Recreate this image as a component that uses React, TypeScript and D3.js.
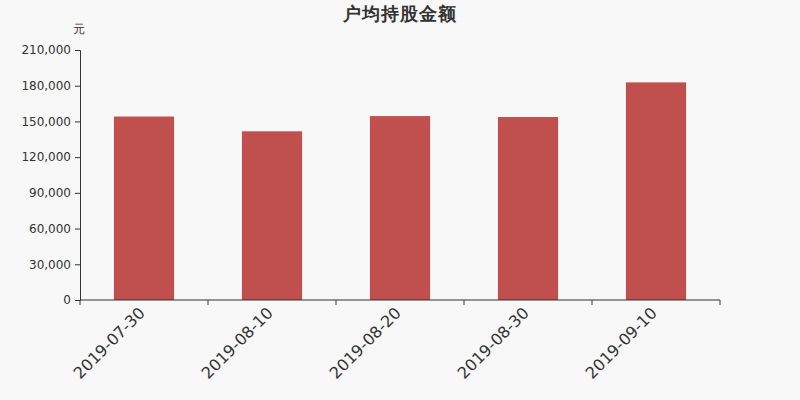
import { useRef, useEffect } from 'react';
import * as d3 from 'd3';

const categories = ['2019-07-30', '2019-08-10', '2019-08-20', '2019-08-30', '2019-09-10'];
const values = [154100, 141700, 154500, 153700, 182800];
const yTicks = [0, 30000, 60000, 90000, 120000, 150000, 180000, 210000];

const W = 800;
const H = 400;
const margin = { top: 50, right: 80, bottom: 100, left: 80 };
const FONT = '"DejaVu Sans", sans-serif';
const TEXT = '#333';

export default function App() {
	const svgRef = useRef<SVGSVGElement>(null);

	useEffect(() => {
		const svg = d3.select(svgRef.current);
		svg.selectAll('*').remove();

		const plotW = W - margin.left - margin.right;
		const plotH = H - margin.top - margin.bottom;

		svg.append('rect').attr('width', W).attr('height', H).attr('fill', '#f8f8f8');

		const g = svg
			.append('g')
			.attr('transform', `translate(${margin.left},${margin.top})`);

		const x = d3.scaleBand().domain(categories).range([0, plotW]).padding(0);
		const y = d3.scaleLinear().domain([0, 210000]).range([plotH, 0]);
		const barW = x.bandwidth() * 0.47;

		// Bars
		g.selectAll('rect.bar')
			.data(values)
			.enter()
			.append('rect')
			.attr('class', 'bar')
			.attr('x', (_, i) => (x(categories[i]) as number) + (x.bandwidth() - barW) / 2)
			.attr('y', (d) => y(d))
			.attr('width', barW)
			.attr('height', (d) => plotH - y(d))
			.attr('fill', '#c0504e');

		// Y axis
		const yAxis = g
			.append('g')
			.call(
				d3
					.axisLeft(y)
					.tickValues(yTicks)
					.tickSize(5)
					.tickPadding(4)
					.tickFormat((d) => d3.format(',')(d as number)),
			);
		yAxis.select('.domain').attr('stroke', TEXT);
		yAxis.selectAll('line').attr('stroke', TEXT);
		yAxis
			.selectAll('text')
			.attr('font-size', 12)
			.attr('font-family', FONT)
			.attr('fill', TEXT);

		// X axis
		const ticks = categories.map((c) => x(c) as number).concat([plotW]);
		const xAxisG = g.append('g').attr('transform', `translate(0,${plotH})`);
		xAxisG
			.append('line')
			.attr('x1', 0)
			.attr('x2', plotW)
			.attr('stroke', TEXT);
		xAxisG
			.selectAll('line.tick')
			.data(ticks)
			.enter()
			.append('line')
			.attr('class', 'tick')
			.attr('x1', (d) => d)
			.attr('x2', (d) => d)
			.attr('y1', 0)
			.attr('y2', 5)
			.attr('stroke', TEXT);
		xAxisG
			.selectAll('text')
			.data(categories)
			.enter()
			.append('text')
			.attr(
				'transform',
				(d) => `translate(${(x(d) as number) + x.bandwidth() / 2 + 2},${14}) rotate(-45)`,
			)
			.attr('text-anchor', 'end')
			.attr('font-size', 16)
			.attr('font-family', FONT)
			.attr('fill', TEXT)
			.text((d) => d);

		// Unit
		svg.append('text')
			.attr('x', 79)
			.attr('y', 33)
			.attr('text-anchor', 'middle')
			.attr('font-size', 12)
			.attr('font-family', FONT)
			.attr('fill', TEXT)
			.text('元');

		// Title
		svg.append('text')
			.attr('x', 400)
			.attr('y', 20)
			.attr('text-anchor', 'middle')
			.attr('font-size', 18)
			.attr('font-weight', 'bold')
			.attr('letter-spacing', 1)
			.attr('font-family', FONT)
			.attr('fill', TEXT)
			.text('户均持股金额');
	}, []);

	return (
		<svg
			ref={svgRef}
			width={W}
			height={H}
			style={{ display: 'block', position: 'absolute', left: 0, top: 0 }}
		/>
	);
}
